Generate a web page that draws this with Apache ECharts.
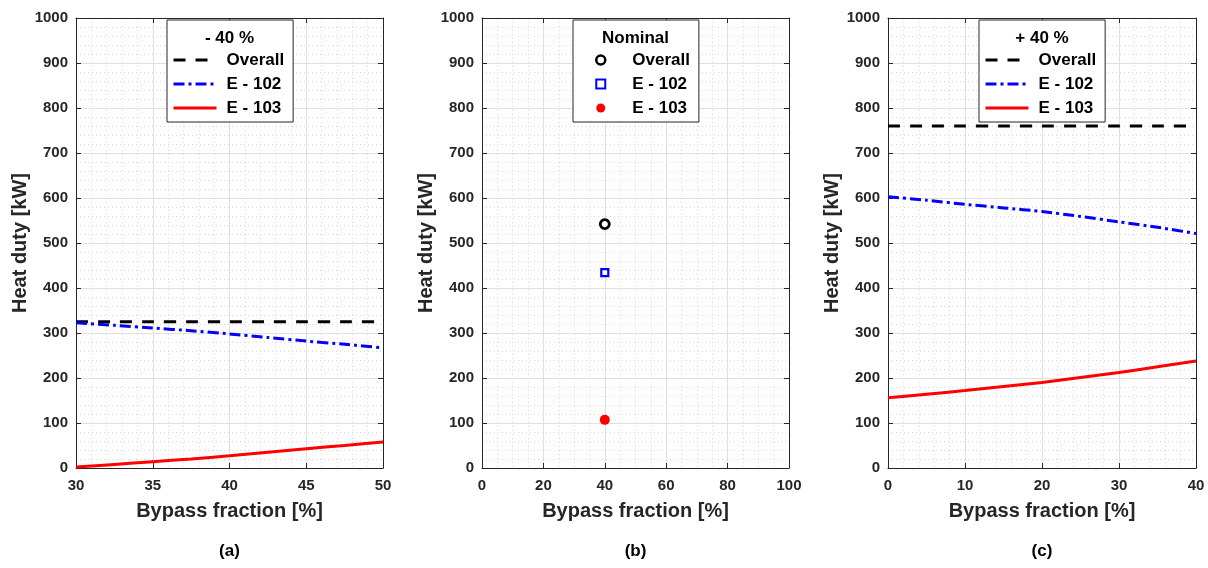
<!DOCTYPE html>
<html>
<head>
<meta charset="utf-8">
<title>Heat duty vs bypass fraction</title>
<script src="https://cdn.jsdelivr.net/npm/echarts@6/dist/echarts.min.js"></script>
<style>
  html, body { margin: 0; padding: 0; background: #fff; }
  #chart { width: 1208px; height: 568px; }
</style>
</head>
<body>
<div id="chart"></div>
<script>
// ---- data ----
// (a) -40 % load
const fracLow = [30, 32.5, 35, 37.5, 40, 42.5, 45, 47.5, 50];
const overallLow = [325, 325, 325, 325, 325, 325, 325, 325, 325];
const e102Low = [323, 317, 311, 305, 298, 290, 282, 275, 267];
const e103Low = [2, 8, 14, 20, 27, 35, 43, 50, 58];

// (b) nominal load
const fracNom = [40];
const overallNom = [542];
const e102Nom = [434];
const e103Nom = [107];

// (c) +40 % load
const fracHigh = [0, 5, 10, 15, 20, 25, 30, 35, 40];
const overallHigh = [760, 760, 760, 760, 760, 760, 760, 760, 760];
const e102High = [603, 595, 586, 578, 570, 559, 547, 535, 521];
const e103High = [156, 164, 172, 181, 190, 201, 212, 225, 238];

// axis ranges: [min, max, interval, minor splits]
const xRangeLow = [30, 50, 5, 5];
const xRangeNom = [0, 100, 20, 4];
const xRangeHigh = [0, 40, 10, 5];
const yRange = [0, 1000, 100, 5];

const panelTitles = ['- 40 %', 'Nominal', '+ 40 %'];
const panelCaptions = ['(a)', '(b)', '(c)'];
const seriesNames = ['Overall', 'E - 102', 'E - 103'];
const xName = 'Bypass fraction [%]';
const yName = 'Heat duty [kW]';

// ---- styling ----
const FONT = "'Liberation Sans', Arial, Helvetica, sans-serif";
const AXIS_COLOR = '#262626';
const BLUE = '#0000ff', RED = '#ff0000', BLACK = '#000000';
const DASH = [12, 10];
const DASH_DOT = [11, 4, 3, 4];

const panels = [
  { left: 76, width: 307, x: xRangeLow, key: 'a', legendLeft: 167 },
  { left: 482, width: 307, x: xRangeNom, key: 'b', legendLeft: 573 },
  { left: 888, width: 308, x: xRangeHigh, key: 'c', legendLeft: 979 }
];
const GRID_TOP = 18, GRID_H = 450;

const grids = [], xAxes = [], yAxes = [], series = [], legends = [], graphics = [];

const tickLabel = {
  fontFamily: FONT, fontWeight: 'bold', fontSize: 15, color: AXIS_COLOR,
  formatter: v => String(v)
};
const nameStyle = { fontFamily: FONT, fontWeight: 'bold', fontSize: 20, color: AXIS_COLOR };

function zip(xs, ys) { return xs.map((x, i) => [x, ys[i]]); }

panels.forEach((p, i) => {
  grids.push({ left: p.left, top: GRID_TOP, width: p.width, height: GRID_H, containLabel: false });

  const gridLines = {
    splitLine: { show: true, lineStyle: { color: '#e0e0e0', width: 1 } },
    minorSplitLine: { show: true, lineStyle: { color: '#d8d8d8', width: 1, type: [1, 3] } }
  };

  // bottom x axis (labelled) and a mirrored top axis carrying ticks only
  xAxes.push(Object.assign({
    type: 'value', gridIndex: i, position: 'bottom',
    min: p.x[0], max: p.x[1], interval: p.x[2],
    minorTick: { show: false, splitNumber: p.x[3] },
    axisLine: { show: true, onZero: false, lineStyle: { color: AXIS_COLOR, width: 1 } },
    axisTick: { show: true, inside: true, length: 5, lineStyle: { color: AXIS_COLOR } },
    axisLabel: Object.assign({ margin: 10 }, tickLabel),
    name: xName, nameLocation: 'middle', nameGap: 33, nameTextStyle: nameStyle
  }, gridLines));
  xAxes.push({
    type: 'value', gridIndex: i, position: 'top',
    min: p.x[0], max: p.x[1], interval: p.x[2],
    axisLine: { show: true, onZero: false, lineStyle: { color: AXIS_COLOR, width: 1 } },
    axisTick: { show: true, inside: true, length: 5, lineStyle: { color: AXIS_COLOR } },
    axisLabel: { show: false }, splitLine: { show: false }
  });

  yAxes.push(Object.assign({
    type: 'value', gridIndex: i, position: 'left',
    min: yRange[0], max: yRange[1], interval: yRange[2],
    minorTick: { show: false, splitNumber: yRange[3] },
    axisLine: { show: true, onZero: false, lineStyle: { color: AXIS_COLOR, width: 1 } },
    axisTick: { show: true, inside: true, length: 5, lineStyle: { color: AXIS_COLOR } },
    axisLabel: Object.assign({ margin: 8 }, tickLabel),
    name: yName, nameLocation: 'middle', nameGap: 43, nameRotate: 90, nameTextStyle: nameStyle
  }, gridLines));
  yAxes.push({
    type: 'value', gridIndex: i, position: 'right',
    min: yRange[0], max: yRange[1], interval: yRange[2],
    axisLine: { show: true, onZero: false, lineStyle: { color: AXIS_COLOR, width: 1 } },
    axisTick: { show: true, inside: true, length: 5, lineStyle: { color: AXIS_COLOR } },
    axisLabel: { show: false }, splitLine: { show: false }
  });

  // panel caption below the axis title
  graphics.push({
    type: 'text', z: 100, x: p.left + p.width / 2, y: 551,
    style: { text: panelCaptions[i], font: 'bold 17px ' + FONT, fill: BLACK,
             align: 'center', verticalAlign: 'middle', textAlign: 'center', textVerticalAlign: 'middle' }
  });
});

const axisRefs = i => ({ xAxisIndex: 2 * i, yAxisIndex: 2 * i });
const sname = (key, n) => key + ':' + n;

function lineSeries(i, key, name, xs, ys, color, type) {
  return Object.assign({
    type: 'line', name: sname(key, name), data: zip(xs, ys),
    symbol: 'none', smooth: 0.2, z: 5,
    lineStyle: { color: color, width: 3, type: type }, itemStyle: { color: color }
  }, axisRefs(i));
}

// (a)
series.push(lineSeries(0, 'a', seriesNames[0], fracLow, overallLow, BLACK, DASH));
series.push(lineSeries(0, 'a', seriesNames[1], fracLow, e102Low, BLUE, DASH_DOT));
series.push(lineSeries(0, 'a', seriesNames[2], fracLow, e103Low, RED, 'solid'));

// (b)
series.push(Object.assign({
  type: 'scatter', name: sname('b', seriesNames[0]), data: zip(fracNom, overallNom),
  symbol: 'circle', symbolSize: 9, z: 5,
  itemStyle: { color: '#ffffff', borderColor: BLACK, borderWidth: 2.8, opacity: 1 }
}, axisRefs(1)));
series.push(Object.assign({
  type: 'scatter', name: sname('b', seriesNames[1]), data: zip(fracNom, e102Nom),
  symbol: 'rect', symbolSize: 7, z: 5,
  itemStyle: { color: '#ffffff', borderColor: BLUE, borderWidth: 2.2, opacity: 1 }
}, axisRefs(1)));
series.push(Object.assign({
  type: 'scatter', name: sname('b', seriesNames[2]), data: zip(fracNom, e103Nom),
  symbol: 'circle', symbolSize: 10, z: 5,
  itemStyle: { color: RED, borderWidth: 0, opacity: 1 }
}, axisRefs(1)));

// (c)
series.push(lineSeries(2, 'c', seriesNames[0], fracHigh, overallHigh, BLACK, DASH));
series.push(lineSeries(2, 'c', seriesNames[1], fracHigh, e102High, BLUE, DASH_DOT));
series.push(lineSeries(2, 'c', seriesNames[2], fracHigh, e103High, RED, 'solid'));

// ---- legends (one boxed legend per panel, with a heading) ----
const hiddenSymbol = { opacity: 0, color: 'transparent', borderWidth: 0 };

panels.forEach((p, i) => {
  const isScatter = p.key === 'b';
  const data = seriesNames.map((n, k) => {
    if (!isScatter) return { name: sname(p.key, n), itemStyle: hiddenSymbol };
    if (k === 0) return { name: sname('b', n), icon: 'circle',
      itemStyle: { color: '#ffffff', borderColor: BLACK, borderWidth: 2.5 } };
    if (k === 1) return { name: sname('b', n), icon: 'rect',
      itemStyle: { color: '#ffffff', borderColor: BLUE, borderWidth: 2 } };
    return { name: sname('b', n), icon: 'circle', itemStyle: { color: RED, borderWidth: 0 } };
  });
  legends.push({
    orient: 'vertical', left: p.legendLeft, top: 20,
    padding: isScatter ? [30, 9, 4, 22] : [30, 9, 4, 5],
    itemGap: 4,
    itemWidth: isScatter ? 9 : 43,
    itemHeight: isScatter ? 9 : 14,
    backgroundColor: '#ffffff', borderColor: AXIS_COLOR, borderWidth: 1, borderRadius: 0,
    selectedMode: false,
    formatter: n => n.split(':')[1],
    textStyle: {
      fontFamily: FONT, fontWeight: 'bold', fontSize: 17, color: BLACK,
      lineHeight: 20, padding: [0, 0, 0, isScatter ? 22 : 5]
    },
    lineStyle: { width: 3 },
    data: data
  });
  graphics.push({
    type: 'text', z: 100, x: p.left + p.width / 2, y: 38,
    style: { text: panelTitles[i], font: 'bold 17px ' + FONT, fill: BLACK,
             align: 'center', verticalAlign: 'middle', textAlign: 'center', textVerticalAlign: 'middle' }
  });
});

const chart = echarts.init(document.getElementById('chart'), null, { renderer: 'canvas' });
chart.setOption({
  animation: false,
  backgroundColor: '#ffffff',
  grid: grids,
  xAxis: xAxes,
  yAxis: yAxes,
  legend: legends,
  series: series,
  graphic: { elements: graphics }
});
</script>
</body>
</html>
